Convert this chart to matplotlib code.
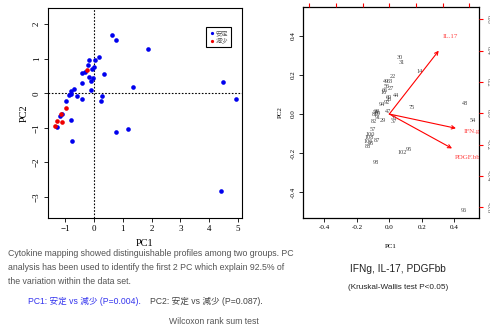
import matplotlib
matplotlib.use("Agg")
import matplotlib.pyplot as plt

# === Data: left PCA score plot ===
stable_pc1 = [0.61, 0.76, 1.86, 0.16, 0.03, -0.19, -0.22, -0.01, -0.06, -0.31,
              -0.43, 0.36, -0.16, -0.02, -0.10, -0.43, 4.48, 1.35, -0.69, -0.79,
              -0.10, -0.81, -0.86, -0.59, 0.28, -0.41, 0.24, 4.93, -0.96, -1.13,
              -1.18, -0.79, -1.30, 1.18, 0.75, -0.78, 4.42]
stable_pc2 = [1.68, 1.53, 1.27, 1.06, 0.97, 0.96, 0.81, 0.77, 0.70, 0.61,
              0.58, 0.56, 0.48, 0.43, 0.37, 0.29, 0.34, 0.19, 0.12, 0.08,
              0.09, -0.03, -0.06, -0.08, -0.08, -0.16, -0.22, -0.16, -0.22, -0.59,
              -0.66, -0.77, -0.98, -1.03, -1.13, -1.39, -2.83]
reduced_pc1 = [-0.25, -0.98, -1.15, -1.13, -1.27, -1.35]
reduced_pc2 = [0.68, -0.43, -0.60, -0.83, -0.81, -0.95]

# === Data: right biplot ===
obs_labels = ["30", "31", "14", "22", "49", "63", "56", "27", "16", "44",
              "26", "92", "94", "47", "39", "69", "81", "91", "29", "35",
              "37", "82", "57", "100", "108", "106", "87", "88", "102", "95",
              "98", "75", "48", "54", "96", "66", "59", "45", "60"]
obs_x = [0.064, 0.076, 0.189, 0.019, -0.022, 0.004, -0.016, 0.010, -0.037, 0.039,
         0.000, -0.012, -0.043, -0.010, -0.078, -0.070, -0.088, -0.068, -0.041, 0.025,
         0.025, -0.098, -0.102, -0.119, -0.123, -0.129, -0.078, -0.133, 0.076, 0.121,
         -0.080, 0.138, 0.464, 0.511, 0.458, -0.030, -0.085, -0.115, -0.005]
obs_y = [0.290, 0.262, 0.216, 0.191, 0.165, 0.165, 0.140, 0.131, 0.109, 0.094,
         0.072, 0.058, 0.051, 0.015, 0.015, 0.005, -0.005, -0.017, -0.031, -0.017,
         -0.039, -0.039, -0.078, -0.104, -0.119, -0.142, -0.137, -0.167, -0.198, -0.181,
         -0.246, 0.034, 0.053, -0.034, -0.495, 0.120, 0.008, -0.150, 0.085]

var_names = ["IL.17", "IFN.g", "PDGF.bb"]
arrow_x = [0.304, 0.410, 0.386]
arrow_y = [0.324, -0.073, -0.176]
varlab_x = [0.374, 0.507, 0.480]
varlab_y = [0.399, -0.090, -0.221]

load_ticks = [-0.6, -0.4, -0.2, 0.0, 0.2, 0.4, 0.6]

# === Fonts ===
SERIF = ["Liberation Serif", "Noto Sans CJK JP"]
SANS = ["Liberation Sans", "Noto Sans CJK JP", "DejaVu Sans"]

W, H = 490, 329
fig = plt.figure(figsize=(W / 100, H / 100), dpi=100)


def fpos(x0, y0, x1, y1):
    return [x0 / W, 1 - y1 / H, (x1 - x0) / W, (y1 - y0) / H]


# === Left plot ===
ax = fig.add_axes(fpos(48, 8, 242, 218))
ax.scatter(stable_pc1, stable_pc2, s=11, color="#0000ee", label="安定", zorder=3, linewidths=0)
ax.scatter(reduced_pc1, reduced_pc2, s=11, color="#ee0000", label="減少", zorder=3, linewidths=0)
ax.axhline(0, color="black", ls=(0, (1.5, 1.5)), lw=0.8)
ax.axvline(0, color="black", ls=(0, (1.5, 1.5)), lw=0.8)
ax.set_xlim(-1.6, 5.14)
ax.set_ylim(-3.61, 2.47)
ax.set_xticks([-1, 0, 1, 2, 3, 4, 5])
ax.set_yticks([-3, -2, -1, 0, 1, 2])
ax.tick_params(labelsize=6.5, length=3, width=0.6, pad=2)
for lab in ax.get_yticklabels():
    lab.set_rotation(90)
    lab.set_va("center")
for lab in ax.get_xticklabels() + ax.get_yticklabels():
    lab.set_family(SERIF)
for sp in ax.spines.values():
    sp.set_linewidth(0.8)
ax.set_xlabel("PC1", family=SERIF, fontsize=7.5, labelpad=4)
ax.set_ylabel("PC2", family=SERIF, fontsize=7.5, labelpad=3)
leg = ax.legend(loc="upper right", bbox_to_anchor=(0.959, 0.924), prop={"family": SERIF, "size": 4.5},
                fancybox=False, edgecolor="black", framealpha=1, handletextpad=0.2,
                borderpad=0.5, handlelength=0.8, markerscale=0.7, labelspacing=0.3)
leg.get_frame().set_linewidth(0.8)
for t in leg.get_texts():
    t.set_color("#555555")

# === Right plot (biplot) ===
bx = fig.add_axes(fpos(302.7, 6.7, 478.7, 218))
bx.set_xlim(-0.533, 0.55)
bx.set_ylim(-0.532, 0.549)
for lab, x, y in zip(obs_labels, obs_x, obs_y):
    bx.text(x, y, lab, family=SERIF, fontsize=4.5, color="#444444", ha="center", va="center")
for name, ax_, ay_, lx, ly in zip(var_names, arrow_x, arrow_y, varlab_x, varlab_y):
    bx.annotate("", xy=(ax_, ay_), xytext=(0, 0),
                arrowprops=dict(arrowstyle="->", color="#ff0000", lw=0.8, shrinkA=0, shrinkB=0,
                                mutation_scale=6))
    bx.text(lx, ly, name, family=SERIF, fontsize=5, color="#ff4444", ha="center", va="center",
            clip_on=True)
bx.set_xticks([-0.4, -0.2, 0.0, 0.2, 0.4])
bx.set_yticks([-0.4, -0.2, 0.0, 0.2, 0.4])
bx.set_xticklabels(["-0.4", "-0.2", "0.0", "0.2", "0.4"])
bx.set_yticklabels(["-0.4", "-0.2", "0.0", "0.2", "0.4"], rotation=90, va="center")
bx.tick_params(labelsize=5, length=3, width=0.6, pad=2)
for lab in bx.get_xticklabels() + bx.get_yticklabels():
    lab.set_family(SERIF)
for sp in bx.spines.values():
    sp.set_linewidth(0.9)
bx.set_xlabel("PC1", family=SERIF, fontsize=5, labelpad=10)
bx.set_ylabel("PC2", family=SERIF, fontsize=5, labelpad=6)

# secondary loading axes (top and right), red ticks
lx_ax = fig.add_axes(fpos(302.7, 6.7, 478.7, 218), frameon=False)
lx_ax.patch.set_visible(False)
lx_ax.set_xlim(-0.649, 0.669)
lx_ax.set_ylim(-0.669, 0.681)
lx_ax.xaxis.tick_top()
lx_ax.yaxis.tick_right()
lx_ax.set_xticks(load_ticks)
lx_ax.set_yticks(load_ticks)
lx_ax.set_xticklabels([])
lx_ax.set_yticklabels([f"{t:.1f}" for t in load_ticks], rotation=-90, va="center")
lx_ax.tick_params(colors="#ff0000", labelcolor="#555555", labelsize=5, length=3, width=0.8, pad=2)
for lab in lx_ax.get_yticklabels():
    lab.set_family(SERIF)
lx_ax.spines["right"].set_visible(True)
lx_ax.spines["right"].set_color("#7a0000")
lx_ax.spines["right"].set_linewidth(1.0)

# === Annotation text ===
def ftext(x, y, s, **kw):
    fig.text(x / W, 1 - y / H, s, **kw)


para = ["Cytokine mapping showed distinguishable profiles among two groups. PC",
        "analysis has been used to identify the first 2 PC which explain 92.5% of",
        "the variation within the data set."]
for i, line in enumerate(para):
    ftext(8, 254 + i * 13.8, line, family=SANS, fontsize=6.3, color="#555555", va="center")

ftext(28, 301.5, "PC1: 安定 vs 減少 (P=0.004).", family=SANS, fontsize=6.2, color="#3333ee", va="center")
ftext(150, 301.5, "PC2: 安定 vs 減少 (P=0.087).", family=SANS, fontsize=6.2, color="#444444", va="center")
ftext(214, 321, "Wilcoxon rank sum test", family=SANS, fontsize=6.2, color="#555555", ha="center", va="center")
ftext(398, 269.5, "IFNg, IL-17, PDGFbb", family=SANS, fontsize=7.3, color="#222222", ha="center", va="center")
ftext(398, 287.5, "(Kruskal-Wallis test P<0.05)", family=SANS, fontsize=5.9, color="#222222",
      ha="center", va="center")

fig.savefig("out.png", dpi=100)
